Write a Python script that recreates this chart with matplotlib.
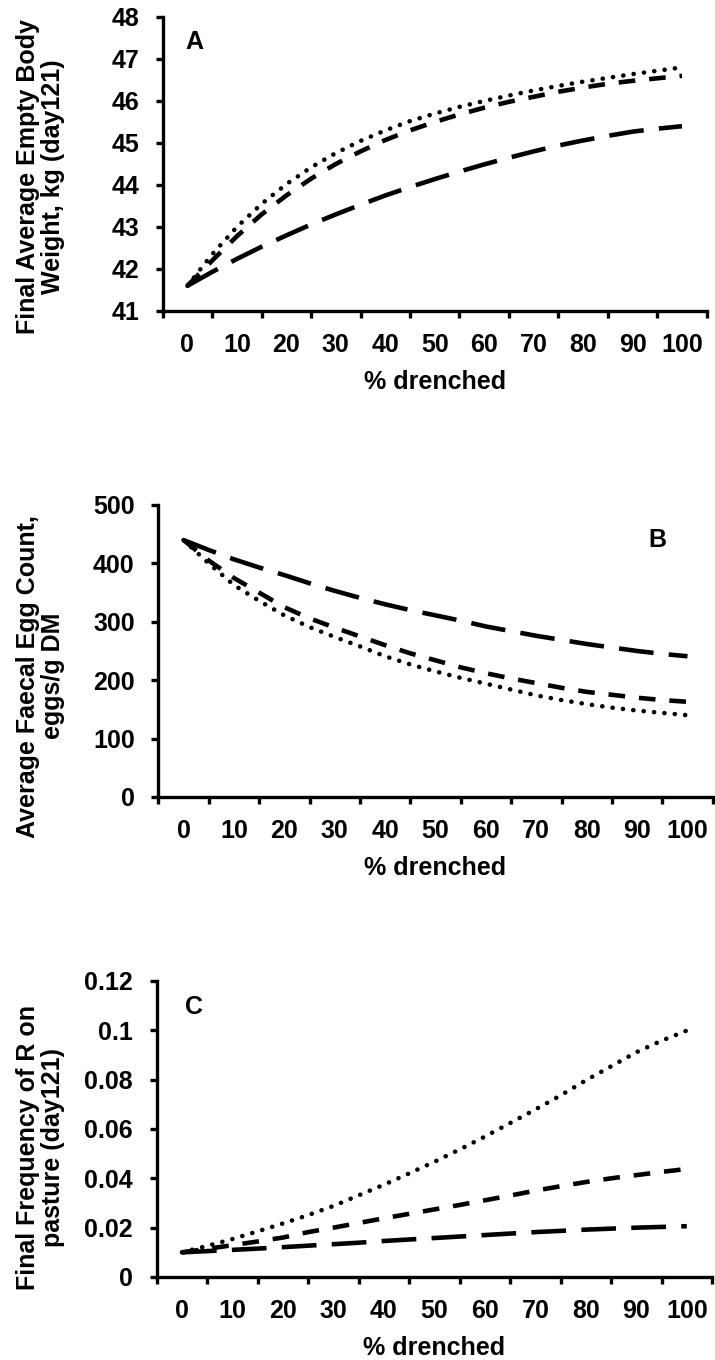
import matplotlib
matplotlib.use('Agg')
import matplotlib.pyplot as plt

plt.rcParams['font.family'] = ['Liberation Sans', 'DejaVu Sans']
plt.rcParams['font.weight'] = 'bold'
plt.rcParams['lines.scale_dashes'] = False

# ---------------- data ----------------
pct_drenched = [0, 5, 10, 15, 20, 25, 30, 35, 40, 45, 50,
                55, 60, 65, 70, 75, 80, 85, 90, 95, 100]
x_tick_values = [0, 10, 20, 30, 40, 50, 60, 70, 80, 90, 100]
x_tick_labels = ['0', '10', '20', '30', '40', '50', '60', '70', '80', '90', '100']
x_mark_positions = [-5, 5, 15, 25, 35, 45, 55, 65, 75, 85, 95, 105]

# Panel A: final average empty body weight (kg, day121)
weight_long_dash = [41.6, 41.93, 42.24, 42.53, 42.8, 43.06, 43.3, 43.53, 43.75, 43.95, 44.14,
                    44.32, 44.49, 44.65, 44.8, 44.94, 45.06, 45.17, 45.27, 45.34, 45.4]
weight_dash = [41.6, 42.2, 42.78, 43.3, 43.75, 44.15, 44.5, 44.8, 45.07, 45.3, 45.5,
               45.68, 45.84, 45.98, 46.1, 46.22, 46.32, 46.41, 46.48, 46.54, 46.6]
weight_dotted = [41.6, 42.35, 43.0, 43.55, 44.02, 44.42, 44.76, 45.05, 45.3, 45.52, 45.7,
                 45.86, 46.0, 46.13, 46.25, 46.36, 46.46, 46.55, 46.64, 46.72, 46.8]
weight_yticks = [41, 42, 43, 44, 45, 46, 47, 48]
weight_ylabels = ['41', '42', '43', '44', '45', '46', '47', '48']

# Panel B: average faecal egg count (eggs/g DM)
fec_long_dash = [440, 423, 407, 393, 380, 366, 353, 341, 330, 320, 311,
                 302, 292, 284, 276, 269, 262, 256, 250, 245, 241]
fec_dash = [440, 405, 375, 350, 325, 306, 290, 275, 260, 246, 234,
            222, 212, 203, 195, 187, 180, 175, 170, 166, 163]
fec_dotted = [440, 400, 363, 336, 311, 291, 274, 258, 241, 227, 215,
              204, 194, 184, 174, 166, 159, 153, 148, 144, 140]
fec_yticks = [0, 100, 200, 300, 400, 500]
fec_ylabels = ['0', '100', '200', '300', '400', '500']

# Panel C: final frequency of R on pasture (day121)
freq_long_dash = [0.0100, 0.0105, 0.0110, 0.0115, 0.0121, 0.0127, 0.0133, 0.0139, 0.0146, 0.0152, 0.0158,
                  0.0164, 0.0170, 0.0176, 0.0182, 0.0187, 0.0192, 0.0196, 0.0200, 0.0203, 0.0206]
freq_dash = [0.0100, 0.0114, 0.0129, 0.0144, 0.0160, 0.0182, 0.0200, 0.0219, 0.0238, 0.0256, 0.0274,
             0.0292, 0.0311, 0.0330, 0.0350, 0.0368, 0.0385, 0.0400, 0.0413, 0.0426, 0.0438]
freq_dotted = [0.0100, 0.0126, 0.0154, 0.0185, 0.0217, 0.0251, 0.0288, 0.0331, 0.0374, 0.0420, 0.0467,
               0.0517, 0.0569, 0.0624, 0.0679, 0.0736, 0.0797, 0.0854, 0.0911, 0.0958, 0.0999]
freq_yticks = [0, 0.02, 0.04, 0.06, 0.08, 0.10, 0.12]
freq_ylabels = ['0', '0.02', '0.04', '0.06', '0.08', '0.1', '0.12']

# ---------------- figure ----------------
W, H = 715, 1360
fig = plt.figure(figsize=(W / 100, H / 100), dpi=100)

FS = 18
LW_AX = 2.4
LW = 3.3


def make_axes(left, right, top, bottom):
    return fig.add_axes([left / W, 1 - bottom / H, (right - left) / W, (bottom - top) / H])


def style(ax, ylim, yticks, ylabels):
    for s in ['top', 'right']:
        ax.spines[s].set_visible(False)
    for s in ['left', 'bottom']:
        ax.spines[s].set_linewidth(LW_AX)
    ax.set_xlim(-5, 105)
    ax.set_ylim(*ylim)
    ax.set_xticks(x_mark_positions)
    ax.set_xticklabels([])
    ax.set_xticks(x_tick_values, x_tick_labels, minor=True)
    ax.tick_params(axis='x', which='major', direction='out', length=5, width=LW_AX)
    ax.tick_params(axis='x', which='minor', length=0, pad=16, labelsize=FS)
    ax.set_yticks(yticks, ylabels)
    ax.tick_params(axis='y', direction='out', length=5, width=LW_AX, pad=12, labelsize=FS)
    for lab in ax.get_xticklabels(minor=True) + ax.get_yticklabels():
        lab.set_fontweight('bold')


def draw_lines(ax, long_dash, dash, dotted):
    ax.plot(pct_drenched, long_dash, color='black', lw=LW, linestyle=(0, (25, 11)),
            dash_capstyle='butt', clip_on=False)
    ax.plot(pct_drenched, dash, color='black', lw=LW, linestyle=(0, (12, 10)),
            dash_capstyle='butt', clip_on=False)
    ax.plot(pct_drenched, dotted, color='black', lw=LW, linestyle=(0, (0.1, 7.4)),
            dash_capstyle='round', clip_on=False)


def labels(ax, ylabel, ycoords, xcoord_y):
    ax.set_ylabel(ylabel, fontsize=FS, fontweight='bold', linespacing=1.05)
    ax.yaxis.label.set_va('center')
    ax.yaxis.set_label_coords(*ycoords)
    ax.set_xlabel('% drenched', fontsize=FS, fontweight='bold')
    ax.xaxis.label.set_va('center')
    ax.xaxis.set_label_coords(0.5, xcoord_y)


# Panel A
axA = make_axes(162.7, 706.7, 17, 311)
style(axA, (41, 48), weight_yticks, weight_ylabels)
draw_lines(axA, weight_long_dash, weight_dash, weight_dotted)
labels(axA, 'Final Average Empty Body\nWeight, kg (day121)', (-0.224, 0.456), (311 - 382) / 294)
axA.text(1.5, 47.4, 'A', fontsize=FS, fontweight='bold', ha='center', va='center')

# Panel B
axB = make_axes(158.3, 712.7, 505, 797)
style(axB, (0, 500), fec_yticks, fec_ylabels)
draw_lines(axB, fec_long_dash, fec_dash, fec_dotted)
labels(axB, 'Average Faecal Egg Count,\neggs/g DM', (-0.213, 0.414), (797 - 868) / 292)
axB.text(94, 440, 'B', fontsize=FS, fontweight='bold', ha='center', va='center')

# Panel C
axC = make_axes(156.7, 712.0, 981, 1277)
style(axC, (0, 0.12), freq_yticks, freq_ylabels)
draw_lines(axC, freq_long_dash, freq_dash, freq_dotted)
labels(axC, 'Final Frequency of R on\npasture (day121)', (-0.21, 0.436), (1277 - 1348) / 296)
axC.text(2.3, 0.1095, 'C', fontsize=FS, fontweight='bold', ha='center', va='center')

fig.savefig('out.png', dpi=100)
